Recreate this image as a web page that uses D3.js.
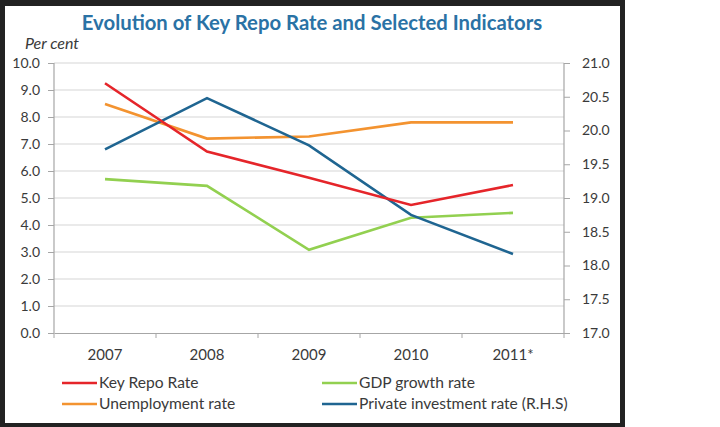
<!DOCTYPE html>
<html><head><meta charset="utf-8">
<script src="https://cdn.jsdelivr.net/npm/d3@7"></script>
<style>body{margin:0;background:#fff}svg{display:block}</style>
</head><body>
<svg id="c" width="720" height="427"></svg>
<script>
const years = ["2007","2008","2009","2010","2011*"];
const keyRepo = [9.25, 6.72, 5.75, 4.74, 5.48];
const unemployment = [8.48, 7.2, 7.28, 7.8, 7.8];
const gdpGrowth = [5.7, 5.45, 3.08, 4.27, 4.45];
const privateInvestment = [19.72, 20.48, 19.78, 18.75, 18.17];
const leftTicks = [0,1,2,3,4,5,6,7,8,9,10];
const rightTicks = [17.0,17.5,18.0,18.5,19.0,19.5,20.0,20.5,21.0];
const seriesNames = ["Key Repo Rate","GDP growth rate","Unemployment rate","Private investment rate (R.H.S)"];

const svg = d3.select("#c");
const font = "Lato, 'Open Sans', sans-serif";
const m = {l:54, r:564, t:63, b:333};

// frame
svg.append("rect").attr("x",0).attr("y",0).attr("width",625).attr("height",427).attr("fill","#222");
svg.append("rect").attr("x",5).attr("y",6).attr("width",615).attr("height",417).attr("fill","#fff");

const x = d3.scaleBand().domain(years).range([m.l, m.r]);
const yL = d3.scaleLinear().domain([0,10]).range([m.b, m.t]);
const yR = d3.scaleLinear().domain([17,21]).range([m.b, m.t]);

// grid
svg.append("g").selectAll("line").data(leftTicks.slice(1)).join("line")
  .attr("x1",m.l).attr("x2",m.r).attr("y1",d=>yL(d)).attr("y2",d=>yL(d))
  .attr("stroke","#d6d6d6").attr("stroke-width",1.2);

const axisColor = "#a6a6a6";
const textColor = "#3a3a3a";
const gL = svg.append("g").attr("transform",`translate(${m.l},0)`)
  .call(d3.axisLeft(yL).tickValues(leftTicks).tickFormat(d3.format(".1f")).tickSize(6).tickPadding(8));
const gR = svg.append("g").attr("transform",`translate(${m.r},0)`)
  .call(d3.axisRight(yR).tickValues(rightTicks).tickFormat(d3.format(".1f")).tickSize(6).tickPadding(12));
const gX = svg.append("g").attr("transform",`translate(0,${m.b})`)
  .call(d3.axisBottom(x).tickSize(0).tickPadding(16));
gX.selectAll(".bt").data(d3.range(years.length+1)).join("line").attr("class","bt")
  .attr("x1",i=>m.l+i*x.step()).attr("x2",i=>m.l+i*x.step()).attr("y1",0).attr("y2",5)
  .attr("stroke",axisColor);
[gL,gR,gX].forEach(g=>{
  g.selectAll(".domain").attr("stroke",axisColor).attr("stroke-width",1.2);
  g.selectAll(".tick line").attr("stroke",axisColor);
  g.selectAll("text").attr("font-family",font).attr("font-size",14).attr("fill",textColor);
});
gL.select(".domain").attr("d",`M0,${m.b}V${m.t}`);
gR.select(".domain").attr("d",`M0,${m.b}V${m.t}`);
gX.selectAll(".tick text").attr("font-size",15);

// lines
const colors = {repo:"#e5252a", unemp:"#f39330", gdp:"#92d050", inv:"#1f6591"};
const lineL = d3.line().x((d,i)=>x(years[i])+x.bandwidth()/2).y(d=>yL(d));
const lineR = d3.line().x((d,i)=>x(years[i])+x.bandwidth()/2).y(d=>yR(d));
const drawn = [
  [unemployment, lineL, colors.unemp],
  [gdpGrowth, lineL, colors.gdp],
  [privateInvestment, lineR, colors.inv],
  [keyRepo, lineL, colors.repo]
];
drawn.forEach(([d,gen,c])=>{
  svg.append("path").attr("d",gen(d)).attr("fill","none").attr("stroke",c).attr("stroke-width",2.6);
});

// title
svg.append("text").attr("x",312).attr("y",30).attr("text-anchor","middle")
  .attr("font-family",font).attr("font-weight","bold").attr("font-size",20.3).attr("fill","#2a72a5")
  .text("Evolution of Key Repo Rate and Selected Indicators");
svg.append("text").attr("x",25).attr("y",49).attr("font-family",font).attr("font-style","italic")
  .attr("font-size",16).attr("fill",textColor).text("Per cent");

// legend
const leg = [
  [seriesNames[0], colors.repo, 62, 383],
  [seriesNames[1], colors.gdp, 322, 383],
  [seriesNames[2], colors.unemp, 62, 404],
  [seriesNames[3], colors.inv, 322, 404]
];
leg.forEach(([t,c,lx,ly])=>{
  svg.append("line").attr("x1",lx).attr("x2",lx+35).attr("y1",ly).attr("y2",ly).attr("stroke",c).attr("stroke-width",2.6);
  svg.append("text").attr("x",lx+37).attr("y",ly+5).attr("font-family",font).attr("font-size",15.6)
    .attr("fill",textColor).text(t);
});
</script>
</body></html>
